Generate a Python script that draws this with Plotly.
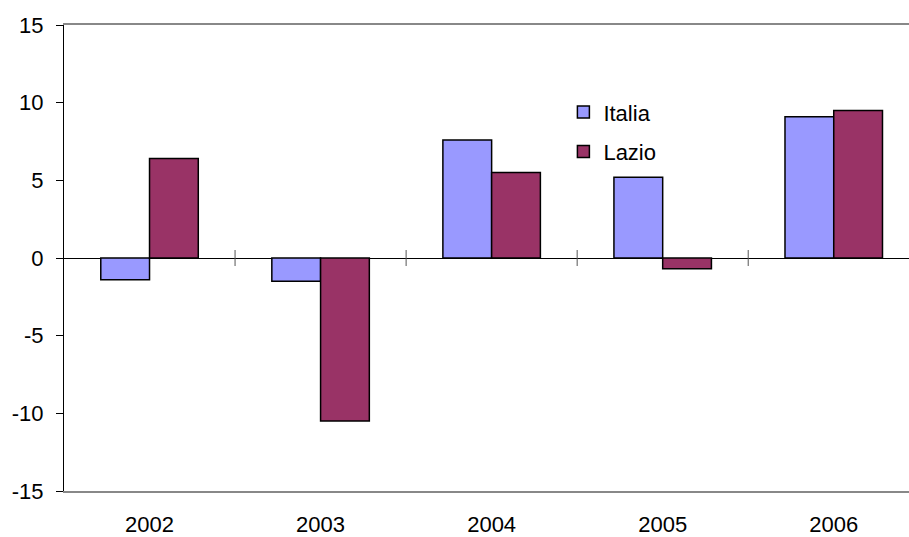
import plotly.graph_objects as go

years = ["2002", "2003", "2004", "2005", "2006"]
italia = [-1.4, -1.5, 7.6, 5.2, 9.1]
lazio = [6.4, -10.5, 5.5, -0.7, 9.5]
y_ticks = [-15, -10, -5, 0, 5, 10, 15]
y_tick_text = ["-15", "-10", "-5", "0", "5", "10", "15"]

FONT = "Liberation Sans, Arial, sans-serif"

fig = go.Figure()
fig.add_trace(go.Bar(
    x=years, y=italia, name="Italia", legendgroup="a",
    marker=dict(color="#9999FF", line=dict(color="black", width=1.5)),
))
fig.add_trace(go.Bar(
    x=years, y=lazio, name="Lazio", legendgroup="b",
    marker=dict(color="#993366", line=dict(color="black", width=1.5)),
))

# category boundary ticks crossing the zero line
for i in range(len(years) - 1):
    fig.add_shape(
        type="line", xref="x", yref="y", x0=i + 0.5, x1=i + 0.5,
        ysizemode="pixel", yanchor=0, y0=-8, y1=8,
        line=dict(color="#555555", width=1),
    )

fig.update_layout(
    width=909, height=537,
    margin=dict(l=64, r=0, t=25, b=46),
    paper_bgcolor="white", plot_bgcolor="white",
    barmode="group", bargap=0.43, bargroupgap=0,
    font=dict(family=FONT, size=22, color="black"),
    showlegend=True,
    legend=dict(
        x=0.591, y=0.858, xanchor="left", yanchor="top",
        bgcolor="rgba(0,0,0,0)", borderwidth=0,
        tracegroupgap=8, font=dict(size=22),
    ),
    xaxis=dict(
        type="category", range=[-0.5, 4.44],
        showline=True, linecolor="#888888", linewidth=2, mirror=True,
        ticks="", showgrid=False, ticklabelstandoff=13,
        tickfont=dict(size=22),
    ),
    yaxis=dict(
        range=[-15, 15], tickvals=y_ticks, ticktext=y_tick_text,
        showline=True, linecolor="black", linewidth=1,
        ticks="outside", ticklen=7, tickcolor="black",
        showgrid=False, zeroline=True, zerolinecolor="black", zerolinewidth=1,
        ticklabelstandoff=8, tickfont=dict(size=22),
    ),
)

fig.write_html("out.html")
